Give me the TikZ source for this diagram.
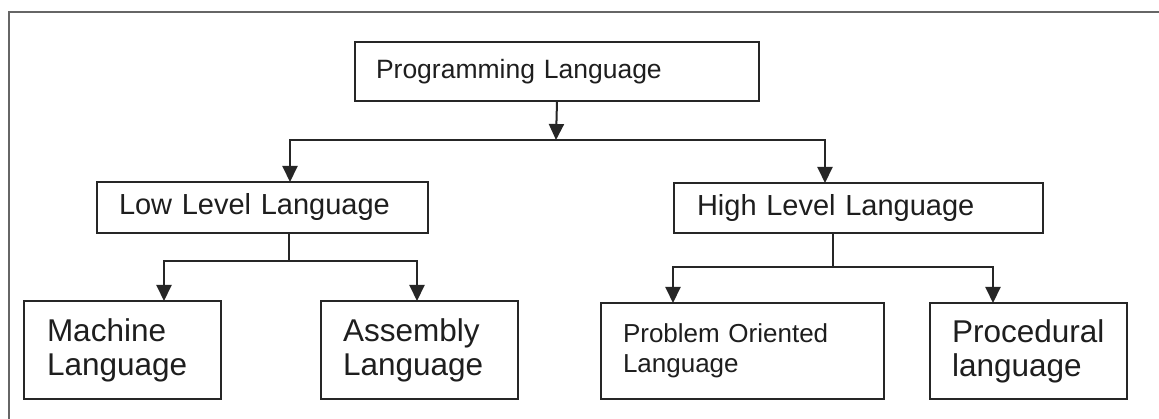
\documentclass[tikz,border=0pt]{standalone}
\usepackage{fontspec}
\setmainfont{Liberation Sans}
\usetikzlibrary{arrows.meta}
\definecolor{lnc}{HTML}{262626}
\definecolor{frc}{HTML}{666666}
\definecolor{txc}{HTML}{1E1E1E}
\begin{document}
\begin{tikzpicture}[x=1pt,y=-1pt,
  box/.style={draw=lnc, line width=2pt, rectangle, anchor=north west, align=left,
              text=txc, inner ysep=0pt, outer sep=0pt},
  arr/.style={draw=lnc, line width=2pt, -{Triangle[width=15pt,length=16pt]}},
  conn/.style={draw=lnc, line width=2pt},
  big/.style={font=\fontsize{31.5}{34}\selectfont},
  mid/.style={font=\fontsize{29}{32}\selectfont}]
\useasboundingbox (0,0) rectangle (1159,419);
\fill[white] (0,0) rectangle (1159,419);
% outer frame (cut by the page on the right and bottom)
\draw[frc, line width=2.4pt] (9,430) -- (9,12) -- (1175,12);

% nodes
\node[box, text width=362pt, inner xsep=21pt, minimum height=59pt,
      font=\fontsize{26.5}{30}\selectfont] (prog) at (355,42) {Programming Language};
\node[box, mid, text width=287pt, inner xsep=22pt, minimum height=51pt] (low) at (97,182) {Low Level Language};
\node[box, mid, text width=323pt, inner xsep=23pt, minimum height=50pt] (high) at (674,183) {High Level Language};
\node[box, big, text width=151pt, inner xsep=23pt, minimum height=98pt] (mach) at (24,301) {Machine\\Language};
\node[box, big, text width=153pt, inner xsep=22pt, minimum height=98pt] (asm) at (321,301) {Assembly\\Language};
\node[box, text width=239pt, inner xsep=22pt, minimum height=96pt,
      font=\fontsize{26}{30}\selectfont] (prob) at (601,303) {Problem Oriented\\Language\\[4pt]};
\node[box, big, text width=153pt, inner xsep=22pt, minimum height=96pt] (proc) at (930,303) {Procedural\\language};

% junction points
\coordinate (j0) at (556,140);
\coordinate (jL) at (290,140);
\coordinate (jR) at (825,140);
\coordinate (lj) at (289,261);
\coordinate (lL) at (164,261);
\coordinate (lR) at (417,261);
\coordinate (hj) at (833,267);
\coordinate (hL) at (673,267);
\coordinate (hR) at (993,267);

% connectors
\draw[arr] (prog.south) -- (j0);
\draw[arr] (j0) -| (jL |- low.north);
\draw[arr] (j0) -| (jR |- high.north);

\draw[conn] (lj |- low.south) -- (lj);
\draw[arr] (lj) -| (lL |- mach.north);
\draw[arr] (lj) -| (lR |- asm.north);

\draw[conn] (hj |- high.south) -- (hj);
\draw[arr] (hj) -| (hL |- prob.north);
\draw[arr] (hj) -| (hR |- proc.north);
\end{tikzpicture}
\end{document}
